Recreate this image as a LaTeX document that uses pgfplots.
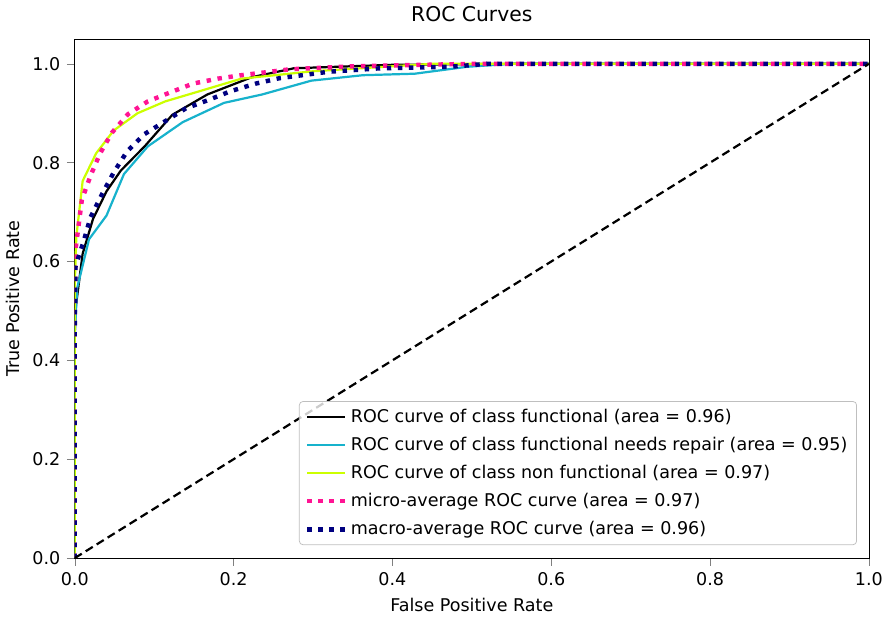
\documentclass[border=0pt]{standalone}
\usepackage{pgfplots}
\pgfplotsset{compat=1.18}
\usepackage{fontspec}
\setmainfont{DejaVu Sans}
\definecolor{cfun}{RGB}{0,0,0}
\definecolor{crep}{RGB}{23,178,204}
\definecolor{cnon}{RGB}{204,255,0}
\definecolor{cmic}{RGB}{255,20,147}
\definecolor{cmac}{RGB}{0,0,128}
\begin{document}
\begin{tikzpicture}
\begin{axis}[
  scale only axis, width=430pt, height=281pt,
  xmin=0, xmax=1, ymin=0, ymax=1.05,
  xtick={0,0.2,0.4,0.6,0.8,1.0}, ytick={0,0.2,0.4,0.6,0.8,1.0},
  xticklabel style={/pgf/number format/.cd,fixed,fixed zerofill,precision=1},
  yticklabel style={/pgf/number format/.cd,fixed,fixed zerofill,precision=1},
  /pgf/number format/assume math mode=true,
  tick label style={font=\fontsize{9.5}{11}\selectfont},
  label style={font=\fontsize{9.5}{11}\selectfont},
  title style={font=\fontsize{11}{13}\selectfont},
  title={ROC Curves}, xlabel={False Positive Rate}, ylabel={True Positive Rate},
  tick align=outside, tick pos=left,
  legend style={at={(0.985,0.025)}, anchor=south east, font=\fontsize{9.5}{12}\selectfont, draw=black!25, fill=white, fill opacity=0.8, text opacity=1, rounded corners=2pt, row sep=2.5pt},
  legend cell align=left,
  legend image post style={xscale=1.2},
]
\addplot[cfun, line width=1.2pt] coordinates {(0,0)(0.0,0.45)(0.001,0.504)(0.01,0.616)(0.023,0.686)(0.04,0.742)(0.058,0.784)(0.088,0.833)(0.123,0.897)(0.167,0.938)(0.223,0.973)(0.276,0.991)(0.4,0.998)(0.55,1)(1,1)};
\addlegendentry{ROC curve of class functional (area = 0.96)}
\addplot[crep, line width=1.2pt] coordinates {(0,0)(0.0,0.45)(0.003,0.546)(0.018,0.645)(0.04,0.693)(0.062,0.777)(0.092,0.833)(0.136,0.882)(0.188,0.921)(0.236,0.938)(0.298,0.966)(0.363,0.977)(0.428,0.98)(0.494,0.994)(0.55,1)(1,1)};
\addlegendentry{ROC curve of class functional needs repair (area = 0.95)}
\addplot[cnon, line width=1.2pt] coordinates {(0,0)(0.0,0.55)(0.002,0.65)(0.01,0.763)(0.027,0.819)(0.049,0.865)(0.079,0.9)(0.114,0.924)(0.158,0.945)(0.21,0.97)(0.3,0.985)(0.45,1)(1,1)};
\addlegendentry{ROC curve of class non functional (area = 0.97)}
\addplot[cmic, line width=2.4pt, dash pattern=on 2.4pt off 3.6pt] coordinates {(0,0)(0.0,0.5)(0.001,0.624)(0.009,0.725)(0.02,0.774)(0.032,0.819)(0.047,0.861)(0.067,0.898)(0.092,0.924)(0.12,0.942)(0.149,0.96)(0.18,0.97)(0.21,0.977)(0.241,0.983)(0.271,0.989)(0.35,0.995)(0.5,1)(1,1)};
\addlegendentry{micro-average ROC curve (area = 0.97)}
\addplot[cmac, line width=2.4pt, dash pattern=on 2.4pt off 3.6pt] coordinates {(0,0)(0.0,0.45)(0.001,0.59)(0.012,0.645)(0.02,0.69)(0.034,0.735)(0.049,0.78)(0.066,0.823)(0.088,0.858)(0.112,0.882)(0.14,0.91)(0.167,0.926)(0.197,0.945)(0.228,0.96)(0.258,0.971)(0.32,0.984)(0.385,0.991)(0.472,0.994)(0.52,1)(1,1)};
\addlegendentry{macro-average ROC curve (area = 0.96)}
\addplot[black, line width=1.2pt, dash pattern=on 4.5pt off 2.5pt, forget plot] coordinates {(0,0)(1,1)};
\end{axis}
\end{tikzpicture}
\end{document}
